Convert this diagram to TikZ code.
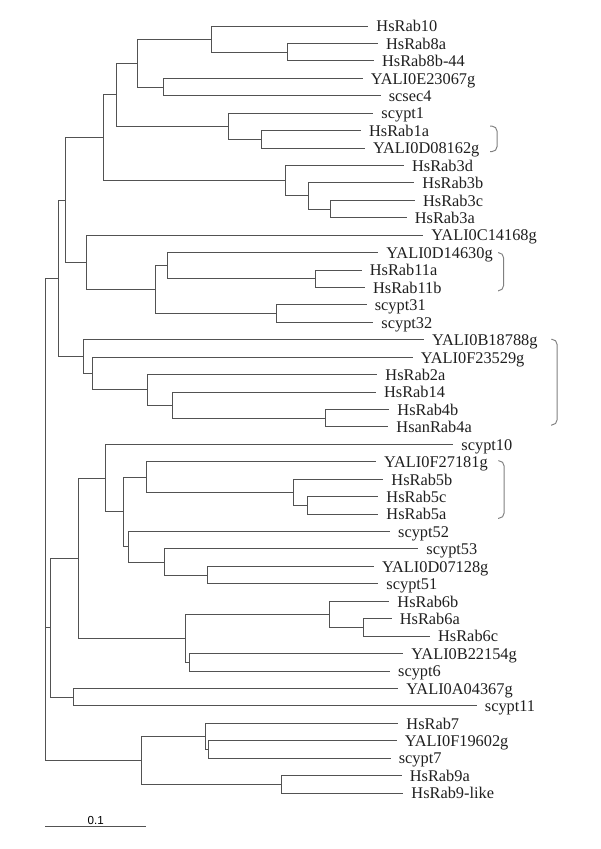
\documentclass[tikz,border=0pt]{standalone}
\usepackage{fontspec}
\setmainfont{Liberation Serif}
\newfontfamily\barfont{Liberation Sans}
\usepackage{tikz}

\begin{document}
\begin{tikzpicture}[x=0.02cm,y=-0.34864cm,
  branch/.style={draw=black!68,line width=0.55pt},
  taxon/.style={anchor=west,inner xsep=4.4pt,inner ysep=0pt,text height=0.66em,text depth=0pt,
    font=\fontsize{9.3}{11}\selectfont,text=black!88},
  clade/.style={draw=black!50,line width=0.55pt,rounded corners=3pt}]
\useasboundingbox (0,-0.4915) rectangle (600,48.212);
\foreach \i/\x/\lab in {1/368.3/HsRab10, 2/378/HsRab8a, 3/374/HsRab8b-44, 4/362.7/YALI0E23067g,
  5/380.7/scsec4, 6/373.3/scypt1, 7/361/HsRab1a, 8/365/YALI0D08162g, 9/404/HsRab3d,
  10/414.3/HsRab3b, 11/415/HsRab3c, 12/406.7/HsRab3a, 13/423.3/YALI0C14168g,
  14/378.3/YALI0D14630g, 15/361.7/HsRab11a, 16/365/HsRab11b, 17/366.7/scypt31,
  18/373.3/scypt32, 19/424/YALI0B18788g, 20/412.7/YALI0F23529g, 21/377.3/HsRab2a,
  22/376/HsRab14, 23/389.3/HsRab4b, 24/388.3/HsanRab4a, 25/453.3/scypt10,
  26/376/YALI0F27181g, 27/383.3/HsRab5b, 28/378.3/HsRab5c, 29/378.3/HsRab5a,
  30/390/scypt52, 31/418.3/scypt53, 32/374/YALI0D07128g, 33/378.3/scypt51,
  34/389.3/HsRab6b, 35/391.7/HsRab6a, 36/430/HsRab6c, 37/403.3/YALI0B22154g,
  38/390/scypt6, 39/398.3/YALI0A04367g, 40/476.7/scypt11, 41/398.3/HsRab7,
  42/396.7/YALI0F19602g, 43/390.7/scypt7, 44/401.7/HsRab9a, 45/403.3/HsRab9-like}
  \node[taxon] (t\i) at (\x,\i) {\lab};
\foreach \nd/\x/\y in {r8/287.3/2.5, r10/211/1.75, e23/163.3/4.5, g137/137.3/3.125,
  r1/261/7.5, pt1/228.7/6.75, g116/116.3/4.9375, r3ca/330/11.5, r3b/308.3/10.75,
  r3/285.7/9.875, g103/103.7/7.40625, r11/315.7/15.5, d146/167.3/14.75,
  pt3/276.7/17.5, g155/155/16.125, c141/86.7/14.5625, g65/65.3/10.984,
  r4/325.7/23.5, r14/172.3/22.75, r2/147.3/21.875, f235/92.3/20.9375,
  b187/83/19.97, g58/58.3/15.477, r5ca/307.7/28.5, r5/293.3/27.75,
  f271/146.7/26.875, pt51/207.3/32.5, pt53/164.7/31.75, pt52/128.7/30.875,
  g123/123.3/28.875, pt10/105/26.9375, r6ac/363.7/35.5, r6/329.3/34.75,
  pt6/189.7/37.5, g185/185/36.125, g78/78/31.53, pt11/73/39.5, g50/50.7/35.516,
  f196/208.3/42.5, r7/205/41.75, r9/281.7/44.5, r79/141/43.125, root/45.3/29.3}
  \coordinate (\nd) at (\x,\y);
\foreach \p/\c in {r8/t2, r8/t3, r10/t1, r10/r8, e23/t4, e23/t5, g137/r10, g137/e23,
  r1/t7, r1/t8, pt1/t6, pt1/r1, g116/g137, g116/pt1, r3ca/t11, r3ca/t12,
  r3b/t10, r3b/r3ca, r3/t9, r3/r3b, g103/g116, g103/r3, r11/t15, r11/t16,
  d146/t14, d146/r11, pt3/t17, pt3/t18, g155/d146, g155/pt3, c141/t13, c141/g155,
  g65/g103, g65/c141, r4/t23, r4/t24, r14/t22, r14/r4, r2/t21, r2/r14,
  f235/t20, f235/r2, b187/t19, b187/f235, g58/g65, g58/b187,
  r5ca/t28, r5ca/t29, r5/t27, r5/r5ca, f271/t26, f271/r5, pt51/t32, pt51/t33,
  pt53/t31, pt53/pt51, pt52/t30, pt52/pt53, g123/f271, g123/pt52, pt10/t25, pt10/g123,
  r6ac/t35, r6ac/t36, r6/t34, r6/r6ac, pt6/t37, pt6/t38, g185/r6, g185/pt6,
  g78/pt10, g78/g185, pt11/t39, pt11/t40, g50/g78, g50/pt11,
  f196/t42, f196/t43, r7/t41, r7/f196, r9/t44, r9/t45, r79/r7, r79/r9,
  root/g58, root/g50, root/r79}
  \draw[branch] (\p) |- (\c);
\draw[clade] (490,6.74) -| (497,8.21) -- (490,8.21);
\draw[clade] (498,14.0) -| (503.5,16.19) -- (498,16.19);
\draw[clade] (551,18.97) -| (557,23.89) -- (551,23.89);
\draw[clade] (498,25.94) -| (504,29.24) -- (498,29.24);
\coordinate (s0) at (45.3,46.93);
\coordinate (s1) at (146,46.93);
\draw[branch] (s0) -- (s1) node[midway,above,inner sep=0.8pt,font=\barfont\fontsize{6.6}{8}\selectfont]{0.1};
\end{tikzpicture}
\end{document}
